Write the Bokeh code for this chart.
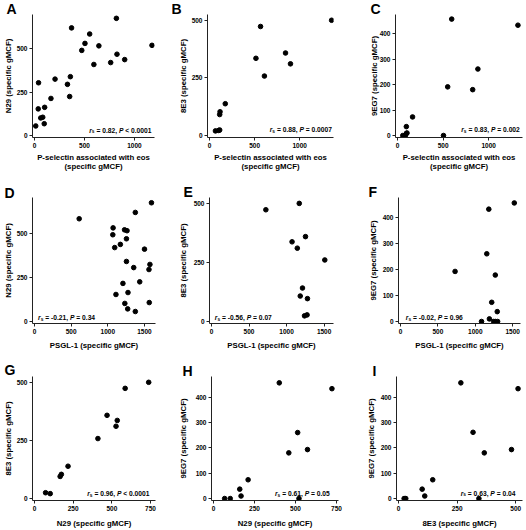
from bokeh.plotting import figure
from bokeh.layouts import column, row
from bokeh.models import Label, FixedTicker, Range1d
from bokeh.embed import file_html
from bokeh.resources import INLINE

# ---------------- data ----------------
A_x = [13, 41, 38, 63, 83, 98, 102, 165, 206, 330, 359, 352, 371, 473, 505, 552, 594, 644, 762, 819, 825, 902, 1175]
A_y = [55, 303, 153, 101, 105, 68, 162, 213, 324, 294, 338, 224, 618, 489, 529, 583, 408, 515, 419, 673, 467, 436, 518]

B_x = [66, 102, 113, 113, 117, 175, 515, 566, 609, 843, 898, 1354]
B_y = [20, 22, 24, 91, 103, 138, 335, 473, 258, 358, 311, 500]

C_x = [58, 86, 97, 104, 97, 165, 504, 550, 594, 824, 881, 1320]
C_y = [0, 0, 8, 10, 35, 73, 0, 191, 457, 180, 261, 433]

D_x = [610, 1072, 1068, 1094, 1111, 1171, 1228, 1262, 1254, 1254, 1206, 1232, 1275, 1271, 1353, 1375, 1375, 1435, 1500, 1561, 1574, 1565, 1595]
D_y = [585, 533, 494, 421, 154, 439, 522, 517, 471, 342, 217, 103, 165, 72, 307, 57, 621, 226, 412, 296, 325, 108, 676]

E_x = [724, 1169, 1073, 1143, 1252, 1509, 1212, 1182, 1278, 1239, 1273]
E_y = [474, 501, 338, 311, 360, 261, 142, 108, 97, 24, 28]

F_x = [730, 1084, 1181, 1154, 1220, 1189, 1268, 1294, 1246, 1268, 1299, 1522]
F_y = [193, 0, 433, 261, 74, 10, 179, 38, 0, 0, 0, 457]

G_x = [72, 102, 166, 174, 217, 410, 469, 527, 535, 586, 738]
G_y = [25, 21, 95, 104, 139, 258, 358, 311, 336, 474, 500]

H_x = [68, 102, 160, 168, 211, 401, 459, 513, 521, 573, 722]
H_y = [0, 0, 37, 10, 74, 456, 180, 260, 0, 193, 433]

I_x = [24, 31, 101, 112, 146, 266, 318, 366, 343, 482, 510]
I_y = [0, 0, 37, 10, 74, 456, 261, 180, 0, 193, 433]

LETTERS = ["A", "B", "C", "D", "E", "F", "G", "H", "I"]
X_LABELS = ["P-selectin associated with eos\n(specific gMCF)"] * 3 + ["PSGL-1 (specific gMCF)"] * 3 + \
           ["N29 (specific gMCF)", "N29 (specific gMCF)", "8E3 (specific gMCF)"]
Y_LABELS = ["N29 (specific gMCF)", "8E3 (specific gMCF)", "9EG7 (specific gMCF)",
            "N29 (specific gMCF)", "8E3 (specific gMCF)", "9EG7 (specific gMCF)",
            "8E3 (specific gMCF)", "9EG7 (specific gMCF)", "9EG7 (specific gMCF)"]
X_MAX = [1200, 1375, 1370, 1650, 1625, 1605, 782, 762, 529]
Y_MAX = [695, 525, 475, 706, 526, 478, 525, 481, 481]
X_TICKS = [[0, 500, 1000]] * 3 + [[0, 500, 1000, 1500]] * 3 + [[0, 250, 500, 750]] * 2 + [[0, 250, 500]]
Y_TICKS = [[0, 250, 500], [0, 250, 500], [0, 100, 200, 300, 400],
           [0, 250, 500], [0, 250, 500], [0, 100, 200, 300, 400],
           [0, 250, 500], [0, 100, 200, 300, 400], [0, 100, 200, 300, 400]]
RS = ["0.82", "0.88", "0.83", "-0.21", "-0.56", "-0.02", "0.96", "0.61", "0.63"]
PV = ["< 0.0001", "= 0.0007", "= 0.002", "= 0.34", "= 0.07", "= 0.96", "< 0.0001", "= 0.05", "= 0.04"]
XS = [A_x, B_x, C_x, D_x, E_x, F_x, G_x, H_x, I_x]
YS = [A_y, B_y, C_y, D_y, E_y, F_y, G_y, H_y, I_y]

# ---------------- layout (reference pixel geometry) ----------------
FONT = "Liberation Sans"
PAD = 2          # px of room left below / left of zero so dots on 0 are not clipped
COL_X = [0, 172, 347]
COL_W = [172, 175, 179]
ROW_Y = [0, 176, 355]
ROW_H = [176, 179, 175]
# axis left, axis right, axis top, axis (x) position  (reference pixels)
AXES = [(27.7, 154, 12, 137.5), (207.3, 333, 12, 137.3), (395.3, 522, 12, 137),
        (27.7, 155, 195, 323), (209, 333, 196.7, 323), (397.7, 520, 196.7, 323),
        (27.7, 155, 376, 501.7), (211.3, 338, 375, 502), (396, 522, 375, 502)]
LETTER_POS = [(1.5, 13.3), (171, 12.7), (370, 13.3), (0.5, 198), (183.5, 198), (368.5, 198),
              (0.5, 375), (182, 375.7), (372, 375.7)]
STAT_POS = [("right", 151, 128.7), ("right", 331.5, 127.7), ("right", 519.3, 127.7),
            ("left", 33.3, 315.7), ("left", 214.3, 315.7), ("left", 405, 315.7),
            ("right", 149, 493.7), ("right", 329.3, 493.5), ("right", 515, 493.2)]
XLAB_STANDOFF = [2, 2, 2, 4, 4, 4, 5, 5, 5]
YLAB_STANDOFF = [1, 1, -2, 1, 3, 2, 1, 5, 2]

TICK_FS = 6.5
LAB_FS = 7.8
STAT_FS = 6.7
LET_FS = 14

ARIAL_B = {' ': 278, '=': 584, '<': 584, '.': 278, ',': 278, '-': 333, 'P': 667, 'r': 389, 's': 556}
for d in "0123456789":
    ARIAL_B[d] = 556


def tw(txt, fs):
    return sum(ARIAL_B.get(c, 556) for c in txt) * fs / 1000.0


def make_panel(i):
    col, rw = i % 3, i // 3
    W, H = COL_W[col], ROW_H[rw]

    def lx(v):
        return v - COL_X[col]

    def ly(v):
        return v - ROW_Y[rw]

    al, ar, at, ab = AXES[i]
    fl = int(round(lx(al)))
    fr = int(round(lx(ar)))
    ft = int(round(ly(at)))
    fb = int(round(ly(ab)))
    xmax, ymax = X_MAX[i], Y_MAX[i]
    ux = xmax / (fr - fl - PAD)
    uy = ymax / (fb - ft - PAD)

    p = figure(width=W, height=H, output_backend="svg", toolbar_location=None,
               x_range=Range1d(-PAD * ux, xmax), y_range=Range1d(-PAD * uy, ymax),
               min_border_left=fl, min_border_right=W - fr,
               min_border_top=ft, min_border_bottom=H - fb)
    p.outline_line_color = None
    p.grid.visible = False
    p.background_fill_color = "white"
    p.border_fill_color = "white"

    # panel letter as the figure title, pulled to the left of the frame
    lxp, lyp = LETTER_POS[i]
    p.title.text = LETTERS[i]
    p.title.align = "left"
    p.title.offset = int(round(lx(lxp) - fl))
    p.title.standoff = int(round(-(lyp + 0.21 * LET_FS - at)))
    p.title.text_font = FONT
    p.title.text_font_style = "bold"
    p.title.text_font_size = f"{LET_FS}px"
    p.title.text_color = "black"

    p.xaxis.ticker = FixedTicker(ticks=X_TICKS[i])
    p.yaxis.ticker = FixedTicker(ticks=Y_TICKS[i])
    p.xaxis.axis_label = X_LABELS[i]
    p.yaxis.axis_label = Y_LABELS[i]
    for ax in (p.xaxis, p.yaxis):
        ax.axis_line_color = "#222222"
        ax.axis_line_width = 1
        ax.major_tick_line_color = "#222222"
        ax.major_tick_out = 3
        ax.major_tick_in = 0
        ax.minor_tick_line_color = None
        ax.major_label_standoff = 2
        ax.major_label_text_font = FONT
        ax.major_label_text_font_style = "bold"
        ax.major_label_text_font_size = f"{TICK_FS}px"
        ax.major_label_text_line_height = 1.0
        ax.major_label_text_color = "black"
        ax.axis_label_text_font = FONT
        ax.axis_label_text_font_style = "bold"
        ax.axis_label_text_font_size = f"{LAB_FS}px"
        ax.axis_label_text_line_height = 1.0
        ax.axis_label_text_color = "black"
    p.xaxis.axis_label_standoff = XLAB_STANDOFF[i]
    p.yaxis.axis_label_standoff = YLAB_STANDOFF[i]

    p.scatter(XS[i], YS[i], size=4.6, color="black")

    # statistics annotation: r_s = ..., P ...  (pieces anchored to the axis ends)
    align, sx, sy = STAT_POS[i]
    fs = STAT_FS
    sub = fs * 0.72
    sp = tw(" ", fs)
    # (text, size, style, baseline shift, gap before)
    pieces = [("r", fs, "bold italic", 0.0, 0.0),
              ("s", sub, "bold", -0.28 * fs, 0.0),
              (f"= {RS[i]},", fs, "bold", 0.0, sp),
              ("P", fs, "bold italic", 0.0, sp),
              (PV[i], fs, "bold", 0.0, sp)]
    base = (ab - sy) - 0.36 * fs + 1.0

    def add_piece(t, f, style, dy, anchor_x, off, talign):
        p.add_layout(Label(x=anchor_x, x_units="data", x_offset=off,
                           y=base + dy, y_units="screen", text=t,
                           text_font=FONT, text_font_style=style, text_font_size=f"{f:.2f}px",
                           text_baseline="alphabetic", text_align=talign, text_color="black"))

    if align == "right":
        cur = -(ar - sx)
        for t, f, style, dy, gap in reversed(pieces):
            add_piece(t, f, style, dy, xmax, cur, "right")
            cur -= tw(t, f) + gap
    else:
        cur = sx - al - PAD
        for t, f, style, dy, gap in pieces:
            cur += gap
            add_piece(t, f, style, dy, 0, cur, "left")
            cur += tw(t, f)
    return p


panels = [make_panel(i) for i in range(9)]
layout = column(row(*panels[0:3]), row(*panels[3:6]), row(*panels[6:9]))

open("out.html", "w").write(file_html(layout, INLINE))
